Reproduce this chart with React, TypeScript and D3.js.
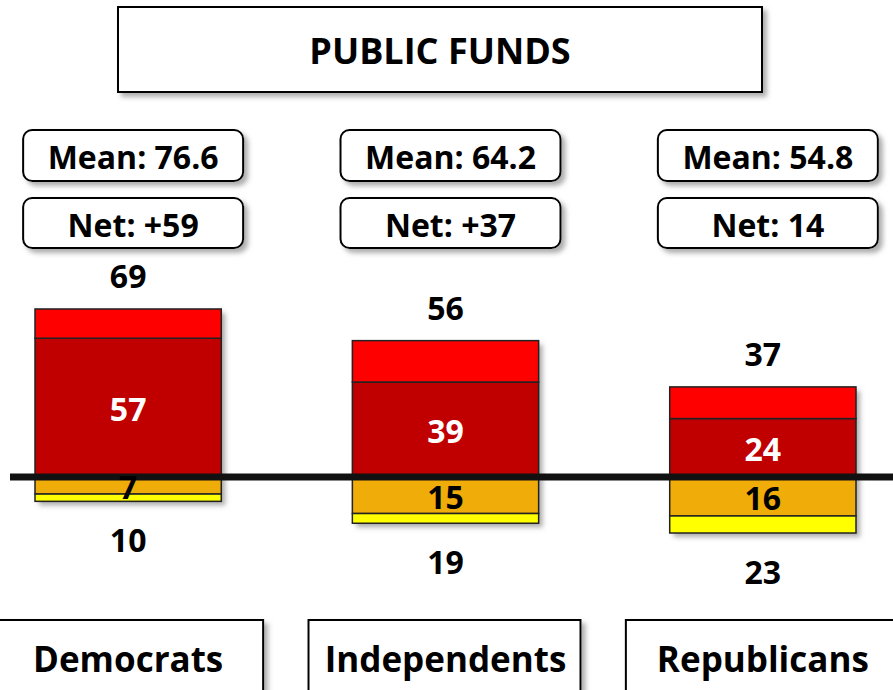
import React from "react";
import * as d3 from "d3";

const categories = ["Democrats", "Independents", "Republicans"];
const totalPositive = [69, 56, 37];
const strongPositive = [57, 39, 24];
const moderateNegative = [7, 15, 16];
const totalNegative = [10, 19, 23];
const meanLabels = ["Mean: 76.6", "Mean: 64.2", "Mean: 54.8"];
const netLabels = ["Net: +59", "Net: +37", "Net: 14"];
const title = "PUBLIC FUNDS";

const W = 893;
const H = 690;
const FONT = "'Open Sans', 'Liberation Sans', sans-serif";

export default function App() {
  const x = d3
    .scaleBand<string>()
    .domain(categories)
    .range([35, 856])
    .paddingInner(0.413)
    .paddingOuter(0);
  const baseY = 477;
  const pxPerUnit = 2.435;
  const y = d3
    .scaleLinear()
    .domain([-30, 75])
    .range([baseY + 30 * pxPerUnit, baseY - 75 * pxPerUnit]);
  const bw = x.bandwidth();

  return (
    <svg
      width={W}
      height={H}
      style={{ position: "absolute", left: 0, top: 0, background: "#fff" }}
      fontFamily={FONT}
      fontWeight="bold"
    >
      <defs>
        <filter id="shadow" x="-10%" y="-10%" width="130%" height="140%">
          <feDropShadow dx="4" dy="4" stdDeviation="2.5" floodColor="#777" floodOpacity="0.6" />
        </filter>
      </defs>

      <rect x={118} y={7} width={644} height={85} fill="#fff" stroke="#000" strokeWidth={2} filter="url(#shadow)" />
      <text x={440} y={50} textAnchor="middle" dominantBaseline="central" fontSize={36}>
        {title}
      </text>

      {categories.map((c, i) => {
        const cx = (x(c) as number) + bw / 2;
        const x0 = x(c) as number;
        const segs = [
          { y0: 0, y1: strongPositive[i], fill: "#C00000" },
          { y0: strongPositive[i], y1: totalPositive[i], fill: "#FF0000" },
          { y0: -moderateNegative[i], y1: 0, fill: "#F0AC08" },
          { y0: -totalNegative[i], y1: -moderateNegative[i], fill: "#FFFF00" },
        ];
        return (
          <g key={c}>
            <rect x={cx + 5 - 110} y={130} width={220} height={51} rx={9} fill="#fff" stroke="#000" strokeWidth={2} filter="url(#shadow)" />
            <text x={cx + 5} y={156} textAnchor="middle" dominantBaseline="central" fontSize={32}>
              {meanLabels[i]}
            </text>
            <rect x={cx + 5 - 110} y={198} width={220} height={50} rx={9} fill="#fff" stroke="#000" strokeWidth={2} filter="url(#shadow)" />
            <text x={cx + 5} y={224} textAnchor="middle" dominantBaseline="central" fontSize={32}>
              {netLabels[i]}
            </text>

            <rect x={x0} y={y(totalPositive[i])} width={bw} height={y(-totalNegative[i]) - y(totalPositive[i])} fill="#fff" filter="url(#shadow)" />
            {segs.map((s, k) => (
              <rect key={k} x={x0} y={y(s.y1)} width={bw} height={y(s.y0) - y(s.y1)} fill={s.fill} stroke="#222" strokeWidth={1.5} />
            ))}
          </g>
        );
      })}

      <line x1={10} x2={W} y1={y(0)} y2={y(0)} stroke="#111" strokeWidth={7} />

      {categories.map((c, i) => {
        const cx = (x(c) as number) + bw / 2;
        return (
          <g key={c + "lbl"} fontSize={32}>
            <text x={cx} y={y(totalPositive[i]) - 33} textAnchor="middle" dominantBaseline="central">
              {totalPositive[i]}
            </text>
            <text x={cx} y={(y(strongPositive[i]) + y(0)) / 2 + 1} textAnchor="middle" dominantBaseline="central" fill="#fff">
              {strongPositive[i]}
            </text>
            <text x={cx} y={(y(-moderateNegative[i]) + y(0)) / 2 + 1} textAnchor="middle" dominantBaseline="central">
              {moderateNegative[i]}
            </text>
            <text x={cx} y={y(-totalNegative[i]) + 38} textAnchor="middle" dominantBaseline="central">
              {totalNegative[i]}
            </text>
            <rect x={cx - 1 - 136} y={620} width={272} height={100} fill="#fff" stroke="#000" strokeWidth={2} filter="url(#shadow)" />
            <text x={cx} y={658} textAnchor="middle" dominantBaseline="central" fontSize={35}>
              {c}
            </text>
          </g>
        );
      })}
    </svg>
  );
}
